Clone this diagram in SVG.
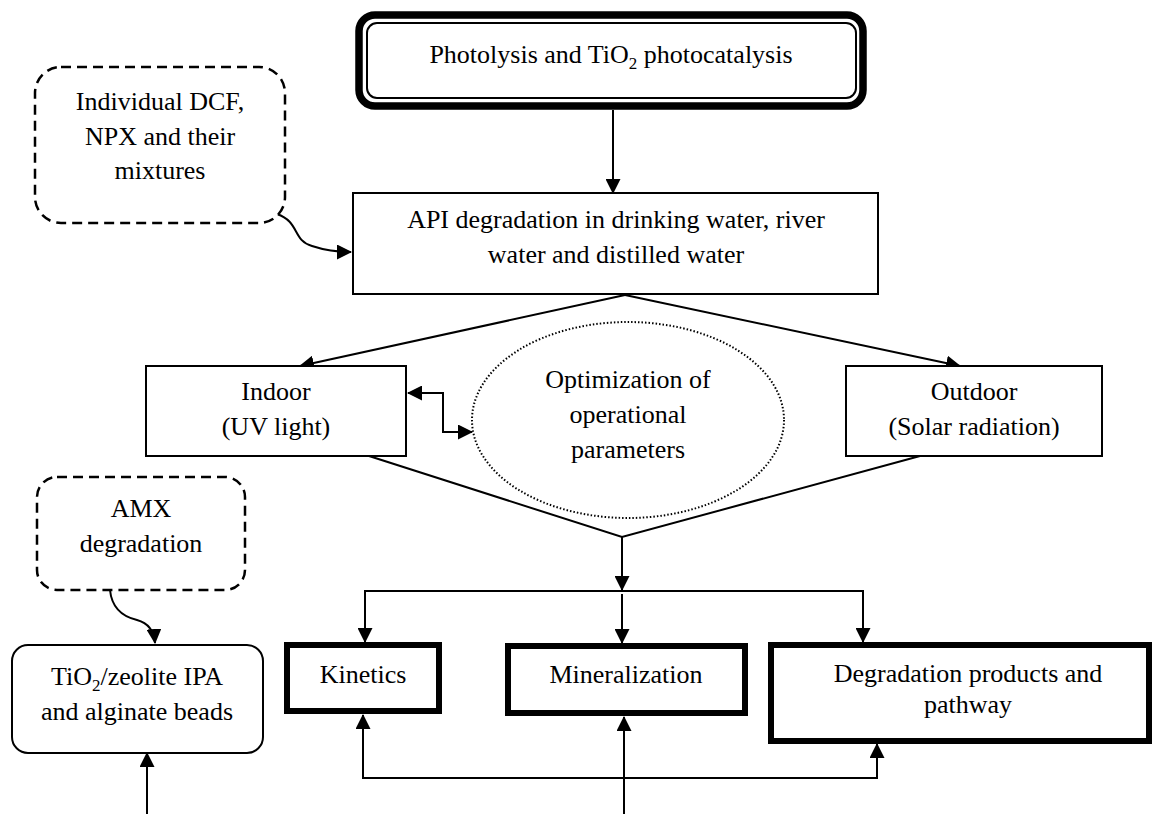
<svg xmlns="http://www.w3.org/2000/svg" width="1155" height="814" viewBox="0 0 1155 814" font-family="Liberation Serif, DejaVu Serif, serif">
<style>
.t{font-family:"Liberation Serif","DejaVu Serif",serif;font-size:26px;fill:#000;text-anchor:middle}
.box{fill:#fff;stroke:#000;stroke-width:2}
.thick{fill:#fff;stroke:#000;stroke-width:6}
.dash{fill:#fff;stroke:#000;stroke-width:2.5;stroke-dasharray:10 6}
.ln{fill:none;stroke:#000;stroke-width:2}
.arr{fill:none;stroke:#000;stroke-width:2;marker-end:url(#ah)}
</style>
<defs>
<marker id="ah" viewBox="0 0 15 15" refX="14" refY="7.5" markerWidth="15" markerHeight="15" orient="auto-start-reverse" markerUnits="userSpaceOnUse"><path d="M0,0 L15,7.5 L0,15 z" fill="#000"/></marker>
</defs>
<rect width="1155" height="814" fill="#fff"/>
<g id="connectors">
<line class="arr" x1="613" y1="110" x2="613" y2="193"/>
<path class="arr" d="M277,214 C300,222 292,240 312,246 C324,250 334,252 351,252"/>
<line class="arr" x1="625" y1="295" x2="300" y2="366"/>
<line class="arr" x1="625" y1="295" x2="960" y2="366"/>
<path class="ln" d="M408,393 H443 V432 H472" marker-start="url(#ah)" marker-end="url(#ah)"/>
<polyline class="ln" points="369,456 622,537 920,456"/>
<line class="arr" x1="622" y1="537" x2="622" y2="590"/>
<polyline class="ln" points="365,642 365,591 863,591 863,642"/>
<line class="arr" x1="365" y1="600" x2="365" y2="642"/>
<line class="arr" x1="863" y1="600" x2="863" y2="642"/>
<line class="arr" x1="622" y1="594" x2="622" y2="643"/>
<polyline class="ln" points="363,716 363,778 877,778 877,744"/>
<line class="arr" x1="363" y1="740" x2="363" y2="715"/>
<line class="arr" x1="877" y1="770" x2="877" y2="744"/>
<line class="arr" x1="624" y1="814" x2="624" y2="717"/>
<line class="arr" x1="147" y1="814" x2="147" y2="753"/>
<path class="arr" d="M110,590 C112,610 124,617 137,620 C148,623 154,630 155,643"/>
</g>
<g id="photolysis">
<rect x="359" y="15" width="504" height="91" rx="16" fill="#fff" stroke="#000" stroke-width="7.5"/>
<rect x="367" y="23" width="489" height="75" rx="10" fill="none" stroke="#000" stroke-width="2"/>
<text class="t" x="611" y="63">Photolysis and TiO<tspan font-size="17" dy="6">2</tspan><tspan dy="-6"> photocatalysis</tspan></text>
</g>
<g id="individual">
<rect class="dash" x="35" y="67" width="250" height="156" rx="26"/>
<text class="t" x="160" y="110">Individual DCF,</text>
<text class="t" x="160" y="145">NPX and their</text>
<text class="t" x="160" y="179">mixtures</text>
</g>
<g id="api">
<rect class="box" x="353" y="193" width="525" height="101"/>
<text class="t" x="616" y="228">API degradation in drinking water, river</text>
<text class="t" x="616" y="263">water and distilled water</text>
</g>
<g id="indoor">
<rect class="box" x="146" y="366" width="260" height="90"/>
<text class="t" x="276" y="400">Indoor</text>
<text class="t" x="276" y="435">(UV light)</text>
</g>
<g id="optimization">
<ellipse cx="628" cy="420" rx="156" ry="98" fill="none" stroke="#000" stroke-width="2" stroke-dasharray="1.5 2"/>
<text class="t" x="628" y="388">Optimization of</text>
<text class="t" x="628" y="423">operational</text>
<text class="t" x="628" y="458">parameters</text>
</g>
<g id="outdoor">
<rect class="box" x="846" y="366" width="256" height="90"/>
<text class="t" x="974" y="400">Outdoor</text>
<text class="t" x="974" y="435">(Solar radiation)</text>
</g>
<g id="amx">
<rect class="dash" x="37" y="477" width="208" height="113" rx="20"/>
<text class="t" x="141" y="517">AMX</text>
<text class="t" x="141" y="552">degradation</text>
</g>
<g id="tio2zeolite">
<rect class="box" x="12" y="645" width="251" height="108" rx="16"/>
<text class="t" x="137" y="685">TiO<tspan font-size="17" dy="6">2</tspan><tspan dy="-6">/zeolite IPA</tspan></text>
<text class="t" x="137" y="720">and alginate beads</text>
</g>
<g id="kinetics">
<rect class="thick" x="287" y="645" width="152" height="66"/>
<text class="t" x="363" y="683">Kinetics</text>
</g>
<g id="mineralization">
<rect class="thick" x="508" y="646" width="237" height="67"/>
<text class="t" x="626" y="683">Mineralization</text>
</g>
<g id="products">
<rect class="thick" x="771" y="645" width="378" height="96"/>
<text class="t" x="968" y="682">Degradation products and</text>
<text class="t" x="968" y="713">pathway</text>
</g>
</svg>
